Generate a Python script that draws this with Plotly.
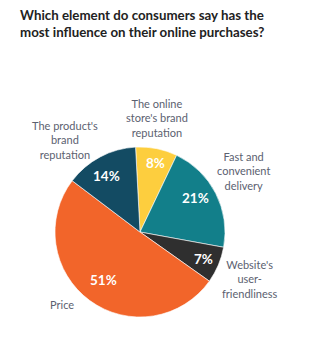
import plotly.graph_objects as go

categories = ["The online store's brand reputation", "Fast and convenient delivery",
              "Website's user-friendliness", "Price", "The product's brand reputation"]
values = [8, 21, 7, 51, 14]
pct_labels = ["8%", "21%", "7%", "51%", "14%"]
colors = ["#FDCE3E", "#127F8A", "#2F2F2F", "#F2652A", "#134B63"]

outside_labels = [
    ("The online<br>store's brand<br>reputation", 157, 118),
    ("Fast and<br>convenient<br>delivery", 243, 171),
    ("Website's<br>user-<br>friendliness", 250, 279),
    ("Price", 62, 304),
    ("The product's<br>brand<br>reputation", 65, 140),
]
pct_pos = [(155, 163), (195, 198), (203, 259), (103, 280), (106, 176)]

W, H = 326, 343
cx, cy, r = 140, 232, 85

fig = go.Figure(go.Pie(
    labels=categories, values=values,
    textinfo="none",
    sort=False, direction="clockwise", rotation=-3,
    marker=dict(colors=colors, line=dict(color="white", width=0.6)),
    domain=dict(x=[(cx - r) / W, (cx + r) / W], y=[1 - (cy + r) / H, 1 - (cy - r) / H]),
    showlegend=False, hoverinfo="skip",
))

annotations = [dict(
    text="<b>Which element do consumers say has the<br>most influence on their online purchases?</b>",
    x=18 / W, y=1 - 5 / H, xref="paper", yref="paper", xanchor="left", yanchor="top",
    align="left", showarrow=False, font=dict(family="Lato", size=13.3, color="#222222"))]
for txt, x, y in outside_labels:
    annotations.append(dict(text=txt, x=x / W, y=1 - y / H, xref="paper", yref="paper",
                            xanchor="center", yanchor="middle", align="center", showarrow=False,
                            font=dict(family="Lato", size=11, color="#5B6170")))
for txt, (x, y) in zip(pct_labels, pct_pos):
    annotations.append(dict(text="<b>" + txt + "</b>", x=x / W, y=1 - y / H, xref="paper", yref="paper",
                            xanchor="center", yanchor="middle", showarrow=False,
                            font=dict(family="Lato", size=13.5, color="white")))

fig.update_layout(width=W, height=H, margin=dict(l=0, r=0, t=0, b=0),
                  paper_bgcolor="white", plot_bgcolor="white", annotations=annotations)
fig.write_html("out.html")
